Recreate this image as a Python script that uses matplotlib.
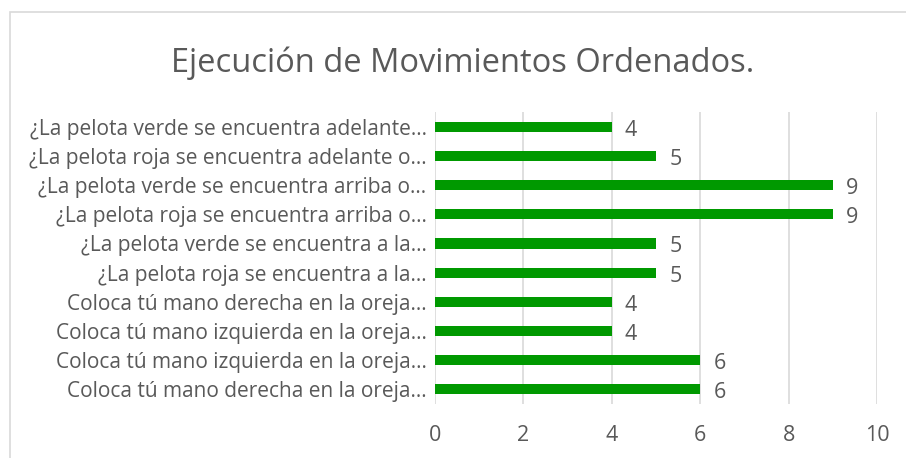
import matplotlib.pyplot as plt
from matplotlib.patches import Rectangle

labels = [
    "¿La pelota verde se encuentra adelante…",
    "¿La pelota roja se encuentra adelante o…",
    "¿La pelota verde se encuentra arriba o…",
    "¿La pelota roja se encuentra arriba o…",
    "¿La pelota verde se encuentra a la…",
    "¿La pelota roja se encuentra a la…",
    "Coloca tú mano derecha en la oreja…",
    "Coloca tú mano izquierda en la oreja…",
    "Coloca tú mano izquierda en la oreja…",
    "Coloca tú mano derecha en la oreja…",
]
values = [4, 5, 9, 9, 5, 5, 4, 4, 6, 6]
xticks = [0, 2, 4, 6, 8, 10]

gray = "#595959"
plt.rcParams['font.family'] = ['Open Sans', 'DejaVu Sans']

fig = plt.figure(figsize=(9.06, 4.58), dpi=100)
fig.patches.append(Rectangle((10 / 906, -0.1), 1.1, 1 - 12 / 458 + 0.1,
                             transform=fig.transFigure, fill=False,
                             edgecolor="#d9d9d9", linewidth=1.2))
ax = fig.add_axes([0.480, 0.118, 0.488, 0.637])

pos = list(range(len(values)))[::-1]
ax.barh(pos, values, height=0.35, color="#009900", zorder=3)
for p, v in zip(pos, values):
    ax.text(v + 0.3, p - 0.12, str(v), va="center", ha="left",
            fontsize=15.5, color=gray)

ax.set_yticks(pos)
ax.set_yticklabels(labels, fontsize=15, color=gray)
ax.set_xticks(xticks)
ax.set_xticklabels([str(t) for t in xticks], fontsize=15.5, color=gray)
ax.set_xlim(0, 10)
ax.set_ylim(-0.5, len(values) - 0.5)
ax.tick_params(length=0, pad=6)
ax.tick_params(axis='x', pad=15)
ax.grid(axis='x', color="#d9d9d9", linewidth=1.2, zorder=0)
for s in ax.spines.values():
    s.set_visible(False)

fig.text(0.511, 0.862, "Ejecución de Movimientos Ordenados.", ha="center",
         va="center", fontsize=23.5, color=gray)

fig.savefig("out.png", dpi=100)
